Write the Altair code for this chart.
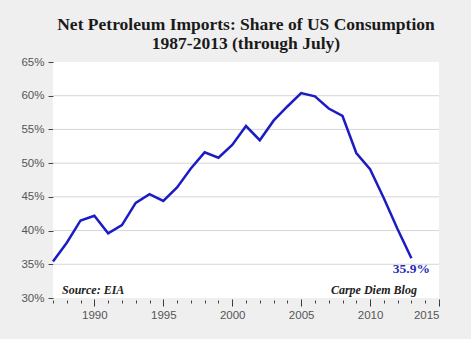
import altair as alt
import pandas as pd

years = list(range(1987, 2014))
share = [35.4, 38.2, 41.5, 42.2, 39.6, 40.8, 44.1, 45.4, 44.4, 46.4,
         49.2, 51.6, 50.8, 52.7, 55.5, 53.4, 56.3, 58.4, 60.4, 59.9,
         58.1, 57.0, 51.5, 49.1, 44.8, 40.2, 35.9]

y_ticks = [30, 35, 40, 45, 50, 55, 60, 65]
grid_vals = [35, 40, 45, 50, 55, 60]
x_major = [1990, 1995, 2000, 2005, 2010, 2015]
x_minor = list(range(1987, 2016))

last_label = ["35.9%"]
notes = ["Source: EIA", "Carpe Diem Blog"]

df = pd.DataFrame({"year": years, "frac": [s / 100 for s in share]})

xscale = alt.Scale(domain=[1987, 2015], nice=False, zero=False)
yscale = alt.Scale(domain=[0.30, 0.65], nice=False, zero=False)

y_axis = alt.Axis(orient="left", values=[v / 100 for v in y_ticks], format=".0%",
                  tickSize=5, tickColor="#444", domain=False, grid=False,
                  title=None, labelFontSize=11.5, labelColor="#555",
                  labelFont="Liberation Sans", labelPadding=4)

grid = alt.Chart(pd.DataFrame({"frac": [v / 100 for v in grid_vals]})).mark_rule(
    color="#d6d6d6", strokeWidth=1
).encode(y=alt.Y("frac:Q", scale=yscale, axis=y_axis))

line = alt.Chart(df).mark_line(color="#1c1cc4", strokeWidth=2.5).encode(
    x=alt.X("year:Q", scale=xscale,
            axis=alt.Axis(values=x_major, format="d", tickSize=7, tickColor="#333",
                          domain=False, grid=False, title=None, labelFontSize=11.5,
                          labelColor="#555", labelFont="Liberation Sans",
                          labelPadding=3, orient="bottom", offset=1)),
    y=alt.Y("frac:Q", scale=yscale, axis=y_axis),
)

minor = alt.Chart(pd.DataFrame({"year": x_minor})).mark_point(opacity=0).encode(
    x=alt.X("year:Q", scale=xscale,
            axis=alt.Axis(values=x_minor, labels=False, tickSize=3, tickColor="#444",
                          domain=False, grid=False, title=None, orient="bottom", offset=2)),
)

end_df = pd.DataFrame({"year": [years[-1]], "frac": [share[-1] / 100], "t": last_label})
end_text = alt.Chart(end_df).mark_text(
    font="Liberation Serif", fontSize=13.5, fontWeight="bold", color="#2a2ab8",
    align="center", baseline="top", dy=4
).encode(x=alt.X("year:Q", scale=xscale, axis=None),
         y=alt.Y("frac:Q", scale=yscale, axis=y_axis), text="t:N")

notes_df = pd.DataFrame({
    "x": [1987.65, 2013.4],
    "frac": [0.3055, 0.3055],
    "t": notes,
})
src = alt.Chart(notes_df.iloc[[0]]).mark_text(
    font="Liberation Serif", fontSize=12, fontWeight="bold", fontStyle="italic",
    color="#222", align="left", baseline="alphabetic"
).encode(x=alt.X("x:Q", scale=xscale, axis=None),
         y=alt.Y("frac:Q", scale=yscale, axis=y_axis), text="t:N")
blog = alt.Chart(notes_df.iloc[[1]]).mark_text(
    font="Liberation Serif", fontSize=12, fontWeight="bold", fontStyle="italic",
    color="#222", align="right", baseline="alphabetic"
).encode(x=alt.X("x:Q", scale=xscale, axis=None),
         y=alt.Y("frac:Q", scale=yscale, axis=y_axis), text="t:N")

chart = alt.layer(grid, line, minor, end_text, src, blog).resolve_axis(
    x="independent", y="shared"
).properties(
    width=386,
    height=236,
    autosize=alt.AutoSizeParams(type="none"),
    padding={"left": 53, "top": 62, "right": 32, "bottom": 41},
    background="#efefef",
    title=alt.TitleParams(
        text=["Net Petroleum Imports: Share of US Consumption", "1987-2013 (through July)"],
        font="Liberation Serif", fontSize=17.5, fontWeight="bold", color="#1a1a1a",
        anchor="middle", frame="group", offset=4, lineHeight=18.5,
    ),
).configure_view(fill="white", stroke=None)

chart.save("out.html", embed_options={"renderer": "svg", "actions": False})
